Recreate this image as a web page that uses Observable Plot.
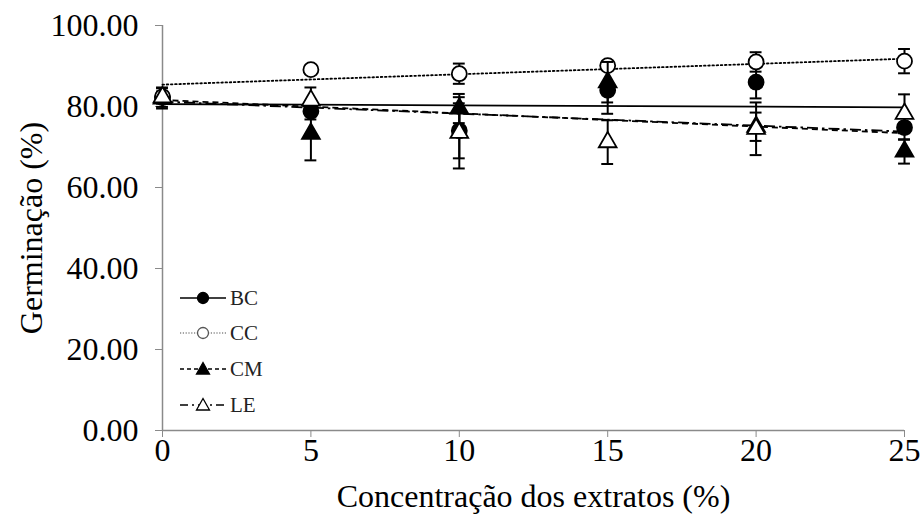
<!DOCTYPE html>
<html>
<head>
<meta charset="utf-8">
<script src="https://cdn.jsdelivr.net/npm/d3@7"></script>
<script src="https://cdn.jsdelivr.net/npm/@observablehq/plot@0.6"></script>
<style>
  html, body { margin: 0; padding: 0; background: #fff; }
  #wrap { position: relative; width: 923px; height: 527px; }
  #legend { position: absolute; left: 0; top: 0; }
  #wrap svg text { font-family: "Liberation Serif", "Times New Roman", serif; }
</style>
</head>
<body>
<div id="wrap"></div>
<script>
// ---- data ----
const concentrations = [0, 5, 10, 15, 20, 25];
const seriesNames = ["BC", "CC", "CM", "LE"];
const BC = [82.2, 78.8, 74.0, 84.0, 86.0, 74.8];
const CC = [82.4, 89.1, 88.1, 90.1, 91.0, 91.2];
const CM = [82.0, 73.3, 79.5, 86.0, 75.0, 68.9];
const LE = [82.3, 81.5, 73.5, 71.2, 74.5, 78.2];
const BC_sd = [1.5, 2.0, 6.8, 5.8, 4.0, 3.0];
const CC_sd = [1.0, 1.0, 2.5, 1.0, 2.4, 3.0];
const CM_sd = [2.5, 6.6, 3.6, 5.0, 3.5, 3.0];
const LE_sd = [2.4, 3.2, 8.8, 5.4, 6.5, 4.8];
// linear trend lines: value at x = 0 and x = 25
const trendStart = [80.6, 85.4, 81.6, 81.2];
const trendEnd   = [79.8, 91.8, 73.4, 73.8];
const yTicks = [0, 20, 40, 60, 80, 100];
const xTicks = [0, 5, 10, 15, 20, 25];
const xLabel = "Concentração dos extratos (%)";
const yLabel = "Germinação (%)";

const values = {BC, CC, CM, LE};
const sds = {BC: BC_sd, CC: CC_sd, CM: CM_sd, LE: LE_sd};
const styles = {
  BC: {symbol: "circle", fill: "black", dash: null, r: 7.5},
  CC: {symbol: "circle", fill: "white", dash: "1.6,2.6", r: 7.5},
  CM: {symbol: "triangle", fill: "black", dash: "6,4", r: 6.6},
  LE: {symbol: "triangle", fill: "white", dash: "11,4,2.5,4", r: 6.6}
};

const FONT = "Liberation Serif";
const GRAY = "#8a8a8a";
const FS = 32;

const marks = [];
// axis lines
marks.push(Plot.ruleX([0], {y1: 0, y2: 100, stroke: GRAY, strokeWidth: 1.5}));
marks.push(Plot.ruleY([0], {x1: 0, x2: 25, stroke: GRAY, strokeWidth: 1.5}));
marks.push(Plot.axisY({ticks: yTicks, tickFormat: d3.format(".2f"), tickSize: 7, tickPadding: 17, stroke: GRAY, label: null, fontSize: FS, fontFamily: FONT, fill: "black"}));
marks.push(Plot.axisX({ticks: xTicks, tickFormat: d3.format("d"), tickSize: 7, tickPadding: 1, stroke: GRAY, label: null, fontSize: FS, fontFamily: FONT, fill: "black"}));

seriesNames.forEach((name, i) => {
  const st = styles[name];
  const rows = concentrations.map((x, j) => ({x, y: values[name][j], sd: sds[name][j]}));
  const trend = [{x: concentrations[0], y: trendStart[i]}, {x: concentrations[concentrations.length - 1], y: trendEnd[i]}];
  marks.push(Plot.line(trend, {x: "x", y: "y", stroke: "black", strokeWidth: 1.8, strokeDasharray: st.dash, strokeLinecap: name === "CC" ? "round" : "butt"}));
  marks.push(Plot.ruleX(rows, {x: "x", y1: d => d.y - d.sd, y2: d => d.y + d.sd, stroke: "black", strokeWidth: 2}));
  marks.push(Plot.ruleY(rows, {y: d => d.y - d.sd, x1: d => d.x - 0.2, x2: d => d.x + 0.2, stroke: "black", strokeWidth: 2}));
  marks.push(Plot.ruleY(rows, {y: d => d.y + d.sd, x1: d => d.x - 0.2, x2: d => d.x + 0.2, stroke: "black", strokeWidth: 2}));
  marks.push(Plot.dot(rows, {x: "x", y: "y", symbol: st.symbol, r: st.r, fill: st.fill, stroke: "black", strokeWidth: 1.8}));
});

// axis titles
marks.push(Plot.text([xLabel], {frameAnchor: "bottom", dy: 66, lineAnchor: "middle", textAnchor: "middle", fontSize: FS, fontFamily: FONT, fill: "black", text: d => d}));
marks.push(Plot.text([yLabel], {frameAnchor: "left", dx: -131, rotate: -90, lineAnchor: "middle", textAnchor: "middle", fontSize: FS, fontFamily: FONT, fill: "black", text: d => d}));

const chart = Plot.plot({
  width: 923,
  height: 527,
  marginLeft: 162,
  marginRight: 19,
  marginTop: 25,
  marginBottom: 97,
  x: {domain: [0, 25]},
  y: {domain: [0, 100]},
  style: {fontFamily: FONT, background: "white", overflow: "visible"},
  marks
});
document.getElementById("wrap").appendChild(chart);

// legend overlay (inside the plot area, as in the reference)
const ns = "http://www.w3.org/2000/svg";
const leg = document.createElementNS(ns, "svg");
leg.setAttribute("id", "legend");
leg.setAttribute("width", 923);
leg.setAttribute("height", 527);
const legRows = [298, 333, 369, 405];
const legLine = {BC: {stroke: "black", dash: null}, CC: {stroke: "#888", dash: "1.2,1.6"}, CM: {stroke: "black", dash: "4,3"}, LE: {stroke: "black", dash: "8,4,2,4"}};
seriesNames.forEach((name, i) => {
  const y = legRows[i];
  const l = document.createElementNS(ns, "line");
  l.setAttribute("x1", 180); l.setAttribute("x2", 226);
  l.setAttribute("y1", y); l.setAttribute("y2", y);
  l.setAttribute("stroke", legLine[name].stroke);
  l.setAttribute("stroke-width", 1.5);
  if (legLine[name].dash) l.setAttribute("stroke-dasharray", legLine[name].dash);
  leg.appendChild(l);
  const st = styles[name];
  const mstroke = name === "CC" ? "#555" : "black";
  let m;
  if (st.symbol === "circle") {
    m = document.createElementNS(ns, "circle");
    m.setAttribute("cx", 203); m.setAttribute("cy", y); m.setAttribute("r", 5.5);
  } else {
    m = document.createElementNS(ns, "path");
    m.setAttribute("d", `M203,${y - 6.5}L209.5,${y + 5}L196.5,${y + 5}Z`);
  }
  m.setAttribute("fill", st.fill);
  m.setAttribute("stroke", mstroke);
  m.setAttribute("stroke-width", 1.3);
  leg.appendChild(m);
  const t = document.createElementNS(ns, "text");
  t.setAttribute("x", 230); t.setAttribute("y", y);
  t.setAttribute("dy", "0.34em");
  t.setAttribute("font-size", 21);
  t.setAttribute("fill", "#222");
  t.textContent = name;
  leg.appendChild(t);
});
document.getElementById("wrap").appendChild(leg);
</script>
</body>
</html>
